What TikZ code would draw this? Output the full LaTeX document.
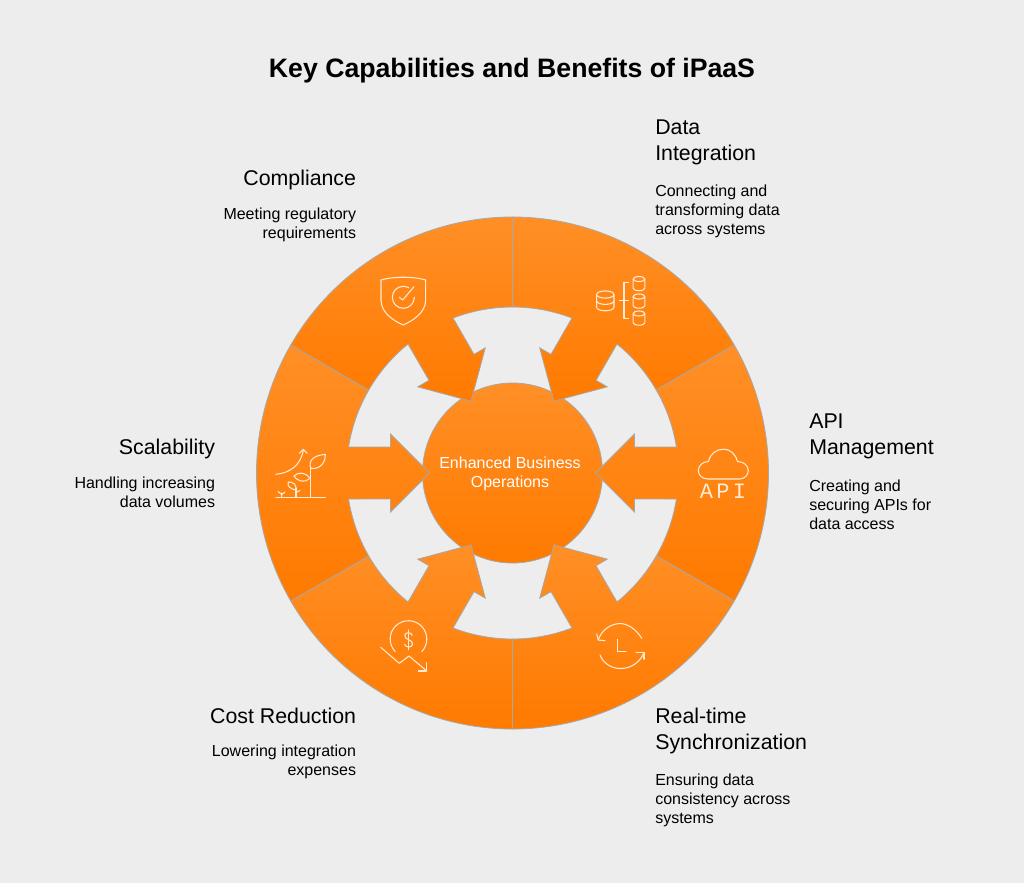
\documentclass[tikz,border=0pt]{standalone}
\usepackage{fontspec}
\setmainfont{Liberation Sans}
\newfontfamily\apifont[LetterSpace=15]{Liberation Mono}
\definecolor{bgc}{HTML}{EDEDED}
\definecolor{otop}{HTML}{FF8F26}
\definecolor{obot}{HTML}{FF7A00}
\definecolor{edgec}{HTML}{A8A8A8}
\definecolor{icoc}{HTML}{FFEBD6}
\newcommand{\sectorshape}[1]{%
  \path[sect] ({#1+30}:256) arc[start angle={#1+30},end angle={#1-30},radius=256]
    -- ({#1-30}:166) arc[start angle={#1-30},end angle={#1-9.01},radius=166]
    -- ({#1-12.02}:124.74) -- ({#1-17.73}:128.08) -- (#1:83)
    -- ({#1+17.73}:128.08) -- ({#1+12.02}:124.74) -- ({#1+9.01}:166)
    arc[start angle={#1+9.01},end angle={#1+30},radius=166] -- cycle;}
\tikzset{
  sect/.style={draw=edgec,line width=.6pt,top color=otop,bottom color=obot,line join=miter},
  ico/.style={draw=icoc,line width=.8pt,line cap=round,line join=round},
  headl/.style={inner sep=0pt,anchor=north west,align=left,font=\fontsize{16}{19.5}\selectfont},
  headr/.style={inner sep=0pt,anchor=north east,align=right,font=\fontsize{16}{19.5}\selectfont},
  descl/.style={inner sep=0pt,anchor=north west,align=left,font=\fontsize{12}{14.5}\selectfont},
  descr/.style={inner sep=0pt,anchor=north east,align=right,font=\fontsize{12}{14.5}\selectfont},
}
\begin{document}
\begin{tikzpicture}[x=.75pt,y=-.75pt]
\useasboundingbox (0,0) rectangle (1024,883);
\fill[bgc] (0,0) rectangle (1024,883);
\node[inner sep=0pt,anchor=base,font=\fontsize{20}{24}\selectfont\bfseries] (title) at (512,77.5) {Key Capabilities and Benefits of iPaaS};
\begin{scope}[shift={(512.5,473)},y=.75pt]
  \path[draw=edgec,line width=.6pt,top color=otop,bottom color=obot] (0,0) circle[radius=90];
  \foreach \a in {60,0,-60,-120,180,120} {\sectorshape{\a}}
\end{scope}
\node[inner sep=0pt,align=center,text=white,font=\fontsize{12}{14.5}\selectfont] (hub) at (510,474) {Enhanced Business\\Operations};
% text
\node[headl] (dataH) at (655,119.4) {Data\\Integration};
\node[descl] (dataD) at (655,184.3) {Connecting and\\transforming data\\across systems};
\node[headr] (compH) at (356.3,169.4) {Compliance};
\node[descr] (compD) at (356.3,207.3) {Meeting regulatory\\requirements};
\node[headl] (apiH) at (809,413.4) {API\\Management};
\node[descl] (apiD) at (809,479.3) {Creating and\\securing APIs for\\data access};
\node[headr] (scalH) at (215.3,438.4) {Scalability};
\node[descr] (scalD) at (215.3,476.3) {Handling increasing\\data volumes};
\node[headr] (costH) at (356.3,707.4) {Cost Reduction};
\node[descr] (costD) at (356.3,744.3) {Lowering integration\\expenses};
\node[headl] (syncH) at (655,707.4) {Real-time\\Synchronization};
\node[descl] (syncD) at (655,773.3) {Ensuring data\\consistency across\\systems};
% database icon
\draw[ico] (605.3,294.5) ellipse[x radius=8.7,y radius=3.6];
\draw[ico] (596.6,294.5) -- (596.6,307.2) arc[start angle=180,end angle=0,x radius=8.7,y radius=3.6] -- (614,294.5);
\draw[ico] (596.6,300.8) arc[start angle=180,end angle=0,x radius=8.7,y radius=3.6];
\foreach \yt in {279,296.5,313.5} {
  \draw[ico] (639,\yt) ellipse[x radius=5.8,y radius=2.5];
  \draw[ico] (633.2,\yt) -- (633.2,{\yt+9.2}) arc[start angle=180,end angle=0,x radius=5.8,y radius=2.5] -- (644.8,\yt);
}
\draw[ico] (628.5,282.3) -- (624,282.3) -- (624,318.3) -- (628.5,318.3);
\draw[ico] (619.3,300.5) -- (628.5,300.5);
% shield icon
\draw[ico] (381,280) .. controls (393,276.3) and (413,276.3) .. (425.7,280) -- (425.7,300) .. controls (425.7,313) and (412,321) .. (403.3,325) .. controls (394,321) and (381,313) .. (381,300) -- cycle;
\draw[ico] (414.3,297.3) arc[start angle=0,end angle=300,radius=11];
\draw[ico] (399.3,297.3) -- (402.7,300) -- (414,286.7);
% plant icon
\draw[ico] (276,497.7) -- (325.3,497.7);
\draw[ico] (310.7,497.7) -- (310.7,468.3);
\draw[ico] (310.7,468.3) .. controls (308,460) and (314,455.5) .. (325.3,454.3) .. controls (325.5,463) and (320,469.5) .. (310.7,468.3) -- cycle;
\draw[ico] (294,476) .. controls (298,472) and (305,471.5) .. (310,478.3) .. controls (305,483) and (298,482) .. (294,476) -- cycle;
\draw[ico] (296,497.7) -- (296,488);
\draw[ico] (296,490) .. controls (290,489) and (287,486) .. (288.3,482) .. controls (293,481.5) and (297,485) .. (296,490) -- cycle;
\draw[ico] (296,492.5) -- (300,490.5);
\draw[ico] (281.7,497.7) -- (281.7,493) (281.7,494.5) -- (278,491.5) (281.7,494.5) -- (285,492);
\draw[ico] (276,474.3) .. controls (290,473) and (301,465) .. (303.3,449.8);
\draw[ico] (299.3,453.3) -- (303.3,449.3) -- (307.3,453.3);
% dollar icon
\draw[ico] (395.1,651.5) arc[start angle=137,end angle=403,radius=18.3];
\draw[ico] (412.3,635.5) .. controls (411.5,632) and (405,631.5) .. (404.8,635.5) .. controls (404.6,640) and (412.8,639.5) .. (412.6,644) .. controls (412.4,648) and (405.3,648) .. (404.6,644.3);
\draw[ico] (408.6,630) -- (408.6,649.5);
\draw[ico] (380.7,647.3) -- (399.3,663.3) -- (409,656) -- (426.7,671);
\draw[ico] (426.7,662.7) -- (426.7,671) -- (418.3,671);
% sync icon
\draw[ico] (617.3,639.3) -- (617.3,651.7) -- (626,651.7);
\draw[ico] (641.7,638.3) .. controls (636,629) and (628,624) .. (620.5,623.5) .. controls (610,623.5) and (601,631) .. (598.3,640);
\draw[ico] (596.7,634) -- (598.3,640) -- (605,640.7);
\draw[ico] (600,655) .. controls (603,663) and (611,668.5) .. (620.7,668.5) .. controls (632,668.5) and (641,661) .. (644,652.3);
\draw[ico] (636,652.3) -- (644,652.3) -- (644,659.3);
% api icon
\draw[ico] (708,479) .. controls (702,479) and (698.3,475) .. (698.3,470.5) .. controls (698.3,465.5) and (703,461.5) .. (708.5,461.5) .. controls (710,454) and (716,449.3) .. (723.5,449.3) .. controls (731,449.3) and (736,455) .. (737.5,461.5) .. controls (744,461.5) and (748.3,466) .. (748.3,470.5) .. controls (748.3,475.5) and (744,479) .. (739.5,479) -- cycle;
\node[inner sep=0pt,anchor=base,text=icoc,font=\fontsize{16.5}{18}\apifont] (apitxt) at (723,498.3) {API};
\end{tikzpicture}
\end{document}
